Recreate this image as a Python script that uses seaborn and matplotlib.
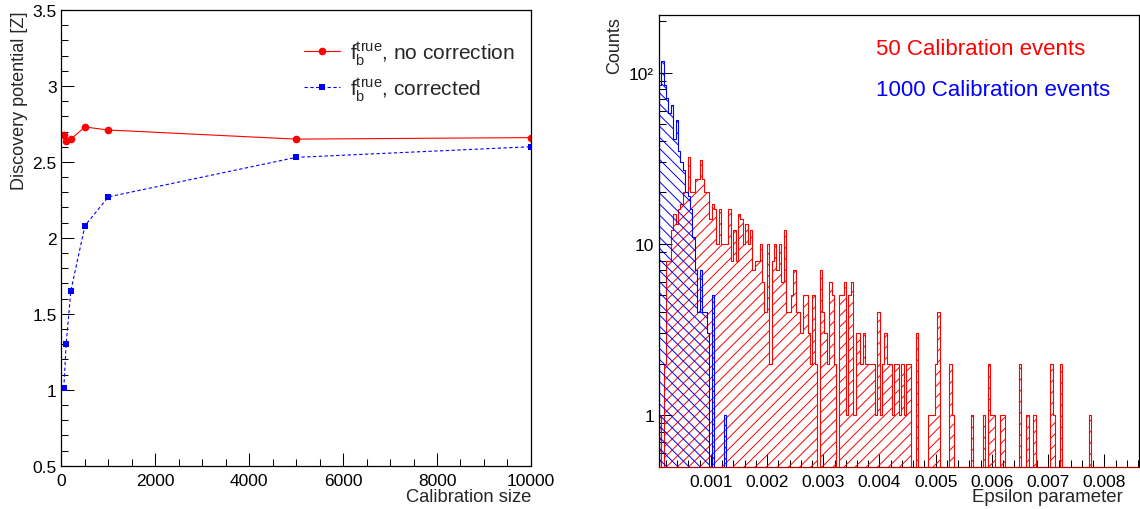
import numpy as np
import matplotlib
matplotlib.use("Agg")
import matplotlib.pyplot as plt
import seaborn as sns
from matplotlib.ticker import (MultipleLocator, FixedLocator, FixedFormatter,
                               NullFormatter, FormatStrFormatter, LogLocator)

# ---------------- data: left panel ----------------
calib_size = [50, 100, 200, 500, 1000, 5000, 10000]
z_no_correction = [2.68, 2.64, 2.65, 2.73, 2.71, 2.65, 2.66]
z_corrected = [1.01, 1.30, 1.65, 2.08, 2.27, 2.53, 2.60]
label_nocorr = r"$\mathrm{f}_{\mathrm{b}}^{\mathrm{true}}$, no correction"
label_corr = r"$\mathrm{f}_{\mathrm{b}}^{\mathrm{true}}$, corrected"

# ---------------- data: right panel ----------------
eps_lo, eps_hi = 0.0000752, 0.008615
n_bins = 200
counts_50 = [
    1, 0, 2, 8, 8, 12, 15, 13, 16, 17, 20, 20, 32, 20, 20, 24, 24, 31, 24, 20,
    20, 14, 17, 16, 10, 16, 10, 10, 10, 16, 8, 12, 8, 15, 14, 10, 13, 10, 12, 7,
    8, 8, 10, 6, 4, 10, 2, 8, 10, 7, 10, 6, 12, 4, 4, 5, 7, 4, 4, 3,
    5, 5, 3, 2, 5, 2, 0, 7, 4, 3, 2, 6, 5, 2, 0, 5, 5, 6, 1, 5,
    6, 1, 3, 3, 2, 3, 2, 2, 2, 2, 1, 4, 1, 2, 3, 2, 2, 1, 2, 2,
    1, 2, 1, 2, 2, 0, 0, 3, 0, 0, 0, 0, 1, 1, 1, 2, 4, 0, 0, 0,
    0, 2, 1, 0, 0, 0, 0, 0, 0, 0, 1, 0, 0, 0, 0, 1, 0, 2, 1, 1,
    0, 0, 1, 1, 0, 0, 0, 0, 0, 0, 2, 0, 0, 1, 0, 0, 1, 0, 0, 0,
    0, 0, 0, 2, 1, 0, 0, 2, 0, 0, 0, 0, 0, 0, 0, 0, 0, 0, 0, 1,
    0, 0, 0, 0, 0, 0, 0, 0, 0, 0, 0, 0, 0, 0, 0, 0, 0, 0, 0, 0,
]
counts_1000 = [
    85, 117, 85, 71, 58, 65, 41, 53, 35, 30, 27, 20, 19, 16, 11, 7, 4, 7, 4, 4,
    3, 0, 5, 0, 0, 0, 0, 1, 0, 0, 0, 0, 0, 0, 0, 0, 0, 0, 0, 0,
    0, 0, 0, 0, 0, 0, 0, 0, 0, 0, 0, 0, 0, 0, 0, 0, 0, 0, 0, 0,
    0, 0, 0, 0, 0, 0, 0, 0, 0, 0, 0, 0, 0, 0, 0, 0, 0, 0, 0, 0,
    0, 0, 0, 0, 0, 0, 0, 0, 0, 0, 0, 0, 0, 0, 0, 0, 0, 0, 0, 0,
    0, 0, 0, 0, 0, 0, 0, 0, 0, 0, 0, 0, 0, 0, 0, 0, 0, 0, 0, 0,
    0, 0, 0, 0, 0, 0, 0, 0, 0, 0, 0, 0, 0, 0, 0, 0, 0, 0, 0, 0,
    0, 0, 0, 0, 0, 0, 0, 0, 0, 0, 0, 0, 0, 0, 0, 0, 0, 0, 0, 0,
    0, 0, 0, 0, 0, 0, 0, 0, 0, 0, 0, 0, 0, 0, 0, 0, 0, 0, 0, 0,
    0, 0, 0, 0, 0, 0, 0, 0, 0, 0, 0, 0, 0, 0, 0, 0, 0, 0, 0, 0,
]
y_tick_vals = [1, 10, 100]
y_tick_labels = ["1", "10", "10\u00b2"]
text_50 = "50 Calibration events"
text_1000 = "1000 Calibration events"

RED = "#ff0000"
BLUE = "#0000ff"

# ---------------- style ----------------
sns.set_theme(style="ticks")
plt.rcParams["font.family"] = ["Liberation Sans", "DejaVu Sans"]
plt.rcParams["mathtext.fontset"] = "custom"
plt.rcParams["mathtext.rm"] = "Liberation Sans"
plt.rcParams["mathtext.it"] = "Liberation Sans:italic"
plt.rcParams["mathtext.bf"] = "Liberation Sans:bold"
plt.rcParams["hatch.linewidth"] = 0.7
plt.rcParams["axes.edgecolor"] = "black"

fig = plt.figure(figsize=(11.4, 5.1), dpi=100)
ax1 = fig.add_axes([0.0539, 0.0849, 0.4118, 0.8935])
ax2 = fig.add_axes([0.5779, 0.0829, 0.4212, 0.8863])

def root_ticks(ax):
    for s in ax.spines.values():
        s.set_linewidth(0.9)
        s.set_color("black")
    ax.tick_params(which="major", direction="in", length=9.6, width=0.75,
                   colors="black", labelsize=12.5, pad=3.5,
                   top=False, right=False)
    ax.tick_params(which="minor", direction="in", length=4.8, width=0.75,
                   colors="black", top=False, right=False)
    ax.tick_params(axis="x", which="major", pad=5)

# ---------------- left panel ----------------
sns.lineplot(x=calib_size, y=z_no_correction, ax=ax1, color=RED, marker="o",
             markersize=5.5, markeredgewidth=0, linewidth=0.8,
             estimator=None, sort=False, label=label_nocorr)
sns.lineplot(x=calib_size, y=z_corrected, ax=ax1, color=BLUE, marker="s",
             markersize=4.8, markeredgewidth=0, linewidth=0.8,
             linestyle=(0, (3.0, 2.2)),
             estimator=None, sort=False, label=label_corr)
ax1.set_xlim(0, 10000)
ax1.set_ylim(0.5, 3.5)
ax1.xaxis.set_major_locator(MultipleLocator(2000))
ax1.xaxis.set_minor_locator(MultipleLocator(500))
ax1.yaxis.set_major_locator(MultipleLocator(0.5))
ax1.yaxis.set_minor_locator(MultipleLocator(0.1))
ax1.yaxis.set_major_formatter(FormatStrFormatter("%g"))
root_ticks(ax1)
ax1.set_xlabel("Calibration size", fontsize=13.2, ha="right")
ax1.xaxis.set_label_coords(1.0, -0.05)
ax1.set_ylabel("Discovery potential [Z]", fontsize=13.0, ha="right")
ax1.yaxis.set_label_coords(-0.071, 1.0)
h, l = ax1.get_legend_handles_labels()
ax1.legend(h, l, loc="upper left", bbox_to_anchor=(0.5165, 0.937),
           frameon=False, fontsize=15, borderaxespad=0, borderpad=0,
           handlelength=1.75, handletextpad=0.45, labelspacing=0.43,
           numpoints=1)

# ---------------- right panel ----------------
edges = np.linspace(eps_lo, eps_hi, n_bins + 1)
centers = 0.5 * (edges[:-1] + edges[1:])
sns.histplot(x=centers, weights=counts_50, bins=n_bins,
             binrange=(eps_lo, eps_hi), ax=ax2,
             element="step", fill=True, color=RED, facecolor="none",
             edgecolor=RED, hatch="///", linewidth=0.8)
sns.histplot(x=centers, weights=counts_1000, bins=n_bins,
             binrange=(eps_lo, eps_hi), ax=ax2,
             element="step", fill=True, color=BLUE, facecolor="none",
             edgecolor=BLUE, hatch="\\\\\\", linewidth=0.8)
ax2.set_yscale("log")
ax2.set_xlim(eps_lo, eps_hi)
ax2.set_ylim(0.5, 218)
ax2.xaxis.set_major_locator(MultipleLocator(0.001))
ax2.xaxis.set_minor_locator(MultipleLocator(0.0002))
ax2.xaxis.set_major_formatter(FormatStrFormatter("%.3f"))
ax2.yaxis.set_major_locator(FixedLocator(y_tick_vals))
ax2.yaxis.set_major_formatter(FixedFormatter(y_tick_labels))
ax2.yaxis.set_minor_locator(LogLocator(base=10, subs=range(2, 10)))
ax2.yaxis.set_minor_formatter(NullFormatter())
root_ticks(ax2)
ax2.spines["bottom"].set_color("#b00000")
ax2.set_xlabel("Epsilon parameter", fontsize=13.4, ha="right")
ax2.xaxis.set_label_coords(0.9667, -0.048)
ax2.set_ylabel("Counts", fontsize=13.0, ha="right")
ax2.yaxis.set_label_coords(-0.0746, 0.997)
ax2.text(0.453, 0.913, text_50, transform=ax2.transAxes, color=RED,
         fontsize=16, ha="left", va="baseline")
ax2.text(0.453, 0.823, text_1000, transform=ax2.transAxes, color=BLUE,
         fontsize=16, ha="left", va="baseline")

fig.savefig("out.png", dpi=100)
